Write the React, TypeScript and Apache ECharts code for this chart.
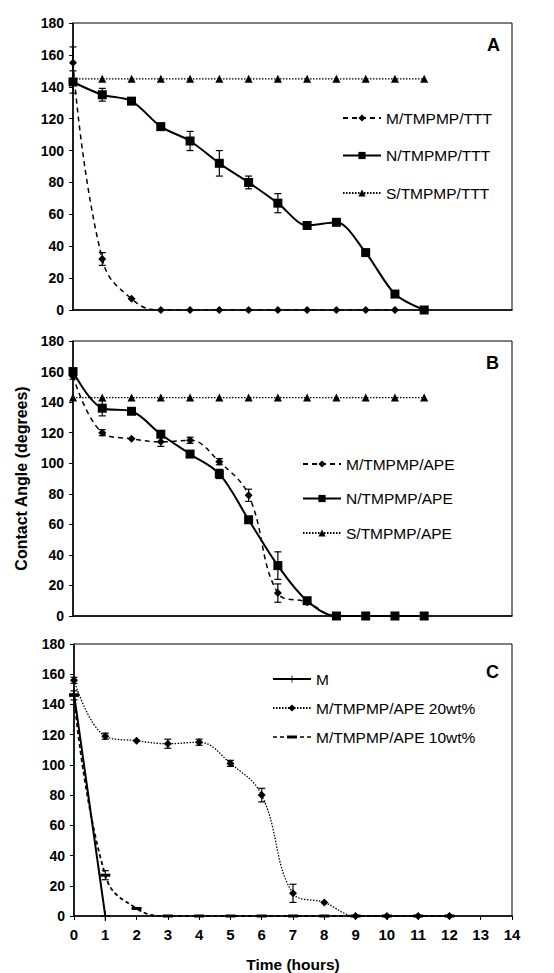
import React, { useEffect, useRef } from "react";
import * as echarts from "echarts";

// Panel A
const timeA = [0, 1, 2, 3, 4, 5, 6, 7, 8, 9, 10, 11, 12];
const aM = [155, 32, 7, 0, 0, 0, 0, 0, 0, 0, 0, 0];
const aMErr = [10, 4, 0, 0, 0, 0, 0, 0, 0, 0, 0, 0];
const aN = [143, 135, 131, 115, 106, 92, 80, 67, 53, 55, 36, 10, 0];
const aNErr = [7, 4, 1, 2, 6, 8, 4, 6, 1, 1, 1, 1, 0];
const aS = [145, 145, 145, 145, 145, 145, 145, 145, 145, 145, 145, 145, 145];

// Panel B
const bM = [157, 120, 116, 114, 115, 101, 79, 15, 9, 0, 0, 0, 0];
const bMErr = [2, 2, 1, 3, 2, 2, 4, 6, 1, 0, 0, 0, 0];
const bN = [160, 136, 134, 119, 106, 93, 63, 33, 10, 0, 0, 0, 0];
const bNErr = [2, 5, 1, 2, 1, 3, 1, 9, 1, 0, 0, 0, 0];
const bS = [143, 143, 143, 143, 143, 143, 143, 143, 143, 143, 143, 143, 143];

// Panel C
const cMTime = [0, 1];
const cM = [147, 0];
const c20 = [156, 119, 116, 114, 115, 101, 80, 15, 9, 0, 0, 0, 0];
const c20Err = [2, 2, 1, 3, 2, 2, 4.5, 6, 1, 0, 0, 0, 0];
const c10 = [146, 27, 5, 0, 0, 0, 0, 0, 0, 0, 0, 0, 0];
const c10Err = [3, 3, 1, 0, 0, 0, 0, 0, 0, 0, 0, 0, 0];

const FONT = "'Liberation Sans', Arial, sans-serif";

const pairs = (ys: number[]) => ys.map((y, i) => [timeA[i], y]);
const errData = (ys: number[], errs: number[]) =>
  ys.map((y, i) => [timeA[i], y, errs[i]]).filter((d) => d[2] > 1.5);

function errorSeries(xi: number, yi: number, data: number[][]) {
  return {
    type: "custom",
    xAxisIndex: xi,
    yAxisIndex: yi,
    silent: true,
    z: 5,
    data,
    renderItem: (params: any, api: any) => {
      const x = api.value(0);
      const y = api.value(1);
      const e = api.value(2);
      const top = api.coord([x, y + e]);
      const bot = api.coord([x, y - e]);
      const style = { stroke: "#000", lineWidth: 1.2 };
      return {
        type: "group",
        children: [
          { type: "line", shape: { x1: top[0], y1: top[1], x2: bot[0], y2: bot[1] }, style },
          { type: "line", shape: { x1: top[0] - 3.5, y1: top[1], x2: top[0] + 3.5, y2: top[1] }, style },
          { type: "line", shape: { x1: bot[0] - 3.5, y1: bot[1], x2: bot[0] + 3.5, y2: bot[1] }, style },
        ],
      };
    },
  };
}

const PLUS = "path://M-0.7,-6H0.7V-0.7H6V0.7H0.7V6H-0.7V0.7H-6V-0.7H-0.7Z";
const DASH_LEGEND =
  "path://M0,0.7H4V2.3H0Z M7,0.7H11V2.3H7Z M14,0H24V3H14Z M27,0.7H31V2.3H27Z M34,0.7H38V2.3H34Z";

export default function App() {
  const ref = useRef<HTMLDivElement>(null);
  useEffect(() => {
    if (!ref.current) return;
    const chart = echarts.init(ref.current, undefined, { renderer: "svg" });

    const grids = [
      { left: 73, top: 23, width: 439, height: 287 },
      { left: 73, top: 341, width: 439, height: 275 },
      { left: 74, top: 644, width: 438, height: 275 },
    ].map((g) => ({ ...g, show: true, borderColor: "#000", borderWidth: 1, backgroundColor: "transparent" }));

    const xAxes = [0, 1, 2].map((i) => ({
      type: "value",
      gridIndex: i,
      min: 0,
      max: i === 2 ? 14 : 15,
      interval: 1,
      axisLine: { show: true, lineStyle: { color: "#000", width: 1.5 } },
      axisTick: { show: i === 2, length: 4, lineStyle: { color: "#000" } },
      axisLabel: {
        show: i === 2,
        color: "#000",
        fontFamily: FONT,
        fontWeight: "bold",
        fontSize: 15,
        margin: 11,
      },
      splitLine: { show: false },
      name: i === 2 ? "Time (hours)" : "",
      nameLocation: "middle",
      nameGap: 40,
      nameTextStyle: { color: "#000", fontFamily: FONT, fontWeight: "bold", fontSize: 15.5 },
    }));

    const yAxes = [0, 1, 2].map((i) => ({
      type: "value",
      gridIndex: i,
      min: 0,
      max: 180,
      interval: 20,
      axisLine: { show: true, lineStyle: { color: "#000", width: 1.5 } },
      axisTick: { show: true, length: 4, lineStyle: { color: "#000" } },
      axisLabel: {
        color: "#000",
        fontFamily: FONT,
        fontWeight: "bold",
        fontSize: 14,
        margin: 9,
      },
      splitLine: { show: false },
      name: i === 1 ? "Contact Angle (degrees)" : "",
      nameLocation: "middle",
      nameGap: 43,
      nameTextStyle: { color: "#000", fontFamily: FONT, fontWeight: "bold", fontSize: 16 },
    }));

    const lineBase = (name: string, xi: number, data: number[][], lineType: any, width: number, symbol: string, symbolSize: any, smooth: any) => ({
      name,
      type: "line",
      xAxisIndex: xi,
      yAxisIndex: xi,
      data,
      smooth,
      symbol,
      symbolSize,
      showSymbol: true,
      itemStyle: { color: "#000" },
      lineStyle: { color: "#000", width, type: lineType },
      z: 3,
    });

    const series: any[] = [
      // A
      lineBase("M/TMPMP/TTT", 0, pairs(aM), [5, 4], 1.5, "diamond", 8, 0.45),
      lineBase("N/TMPMP/TTT", 0, pairs(aN), "solid", 2, "rect", 9, 0.3),
      lineBase("S/TMPMP/TTT", 0, pairs(aS), [1.5, 1.5], 1.2, "triangle", 8, false),
      errorSeries(0, 0, errData(aM, aMErr)),
      errorSeries(0, 0, errData(aN, aNErr)),
      // B
      lineBase("M/TMPMP/APE", 1, pairs(bM), [5, 4], 1.5, "diamond", 8, 0.4),
      lineBase("N/TMPMP/APE", 1, pairs(bN), "solid", 2, "rect", 9, 0.35),
      lineBase("S/TMPMP/APE", 1, pairs(bS), [1.5, 1.5], 1.2, "triangle", 8, false),
      errorSeries(1, 1, errData(bM, bMErr)),
      errorSeries(1, 1, errData(bN, bNErr)),
      // C
      lineBase("M", 2, cM.map((y, i) => [cMTime[i], y]), "solid", 2, PLUS, 10, false),
      lineBase("M/TMPMP/APE 20wt%", 2, pairs(c20), [1.5, 1.5], 1.3, "diamond", 8, 0.4),
      lineBase("M/TMPMP/APE 10wt%", 2, pairs(c10), [4, 3], 1.8, "rect", [10, 3], 0.45),
      errorSeries(2, 2, errData(c20, c20Err)),
      errorSeries(2, 2, errData(c10, c10Err)),
    ];

    const legendBase = (names: any[], left: number, top: number, gap: number) => ({
      data: names,
      orient: "vertical",
      left,
      top,
      itemGap: gap,
      itemWidth: 38,
      itemHeight: 9,
      textStyle: { color: "#000", fontFamily: FONT, fontSize: 15.5 },
      selectedMode: false,
      padding: 0,
    });

    const option: any = {
      animation: false,
      backgroundColor: "#fff",
      grid: grids,
      xAxis: xAxes,
      yAxis: yAxes,
      legend: [
        legendBase(["M/TMPMP/TTT", "N/TMPMP/TTT", "S/TMPMP/TTT"], 342, 110, 21.5),
        legendBase(["M/TMPMP/APE", "N/TMPMP/APE", "S/TMPMP/APE"], 302, 456, 18.5),
        legendBase(
          ["M", "M/TMPMP/APE 20wt%", { name: "M/TMPMP/APE 10wt%", icon: DASH_LEGEND }],
          272,
          671,
          13
        ),
      ],
      graphic: [
        { type: "text", left: 487, top: 36, style: { text: "A", font: `bold 18px ${FONT}`, fill: "#000" } },
        { type: "text", left: 486, top: 354, style: { text: "B", font: `bold 18px ${FONT}`, fill: "#000" } },
        { type: "text", left: 486, top: 663, style: { text: "C", font: `bold 18px ${FONT}`, fill: "#000" } },
      ],
      series,
    };
    chart.setOption(option);
    return () => chart.dispose();
  }, []);
  return <div ref={ref} style={{ width: 554, height: 973, position: "absolute", left: 0, top: 0 }} />;
}
